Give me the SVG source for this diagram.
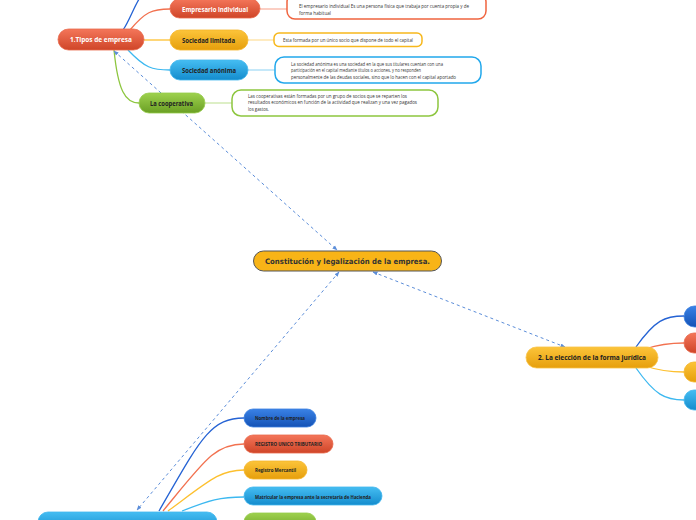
<svg xmlns="http://www.w3.org/2000/svg" width="696" height="520" viewBox="0 0 696 520">
<style>
.t{font-family:"Open Sans","Liberation Sans",sans-serif;font-weight:bold;font-size:7px;fill:#222}
.w{fill:#fff}
.s{font-family:"Open Sans","Liberation Sans",sans-serif;font-weight:bold;font-size:5px;fill:#222}
.n{font-family:"Open Sans","Liberation Sans",sans-serif;font-size:4.7px;fill:#333}
.c{fill:none;stroke-width:1.3}
.lc{fill:none;stroke-width:1.3}
.note{fill:#fff;stroke-width:1.5}
.rel{fill:none;stroke:#5b8dd9;stroke-width:1;stroke-dasharray:3 3}
</style>
<defs>
<linearGradient id="gR" x1="0" y1="0" x2="0" y2="1"><stop offset="0" stop-color="#f4765a"/><stop offset="1" stop-color="#cf4528"/></linearGradient>
<linearGradient id="gY" x1="0" y1="0" x2="0" y2="1"><stop offset="0" stop-color="#fcc43a"/><stop offset="1" stop-color="#e69f0c"/></linearGradient>
<linearGradient id="gB" x1="0" y1="0" x2="0" y2="1"><stop offset="0" stop-color="#45bdf2"/><stop offset="1" stop-color="#148ccd"/></linearGradient>
<linearGradient id="gD" x1="0" y1="0" x2="0" y2="1"><stop offset="0" stop-color="#3a82e6"/><stop offset="1" stop-color="#1452b5"/></linearGradient>
<linearGradient id="gG" x1="0" y1="0" x2="0" y2="1"><stop offset="0" stop-color="#9ed14e"/><stop offset="1" stop-color="#6a9f24"/></linearGradient>
<marker id="ar" viewBox="0 0 10 10" refX="9" refY="5" markerWidth="5" markerHeight="5" orient="auto-start-reverse" markerUnits="userSpaceOnUse">
<path d="M0,1 L10,5 L0,9 Z" fill="#5b8dd9"/>
</marker>
</defs>

<g id="connectors">
<path class="c" stroke="#2563d4" d="M123,30 C130,20 134,6 141,-4"/>
<path class="c" stroke="#f2714f" d="M130,30 C145,12 152,9 170,9"/>
<path class="c" stroke="#fdc02f" d="M144,40 L170,40"/>
<path class="c" stroke="#3cb8f0" d="M128,50 C145,68 152,70 170,70"/>
<path class="c" stroke="#8dc63f" d="M114,50 C118,90 125,103 139,103"/>
<path class="lc" stroke="#f9b4a2" d="M260,9 L287,9"/>
<path class="lc" stroke="#fde0a0" d="M248,40 L274,40"/>
<path class="lc" stroke="#a6dcf6" d="M248,70 L275,70"/>
<path class="lc" stroke="#cbe6a8" d="M205,103 L232,103"/>
<path class="c" stroke="#2563d4" d="M636,347 C655,320 665,316 684,316"/>
<path class="c" stroke="#f2714f" d="M645,349 C660,344 670,343 684,343"/>
<path class="c" stroke="#fdc02f" d="M645,366 C660,371 670,372 684,372"/>
<path class="c" stroke="#3cb8f0" d="M636,368 C655,395 665,400 684,400"/>
<path class="c" stroke="#2563d4" d="M159,511 C200,440 210,418 244,418"/>
<path class="c" stroke="#f2714f" d="M163,511 C205,460 215,444 244,444"/>
<path class="c" stroke="#fdc02f" d="M168,511 C210,480 220,470 244,470"/>
<path class="c" stroke="#3cb8f0" d="M182,511 C210,500 220,497 244,497"/>
<path class="rel" d="M114,51 L337,250" marker-start="url(#ar)" marker-end="url(#ar)"/>
<path class="rel" d="M373,272 L565,347" marker-start="url(#ar)" marker-end="url(#ar)"/>
<path class="rel" d="M339,272 L137,510" marker-start="url(#ar)" marker-end="url(#ar)"/>
</g>

<g id="central">
<rect x="253.5" y="251" width="188" height="20" rx="10" fill="#f8b417" stroke="#555" stroke-width="1"/>
<text x="265" y="264" font-family="'DejaVu Sans',Verdana,sans-serif" font-weight="bold" font-size="7.5" fill="#333" textLength="165" lengthAdjust="spacingAndGlyphs">Constitución y legalización de la empresa.</text>
</g>

<g id="tipos">
<rect x="58" y="29" width="86" height="21" rx="10.5" fill="url(#gR)" stroke="#e8694c" stroke-width="0.8"/>
<text class="t w" x="70" y="42" textLength="62" lengthAdjust="spacingAndGlyphs">1.Tipos de empresa</text>
</g>
<g id="empresario">
<rect x="170" y="-1" width="90" height="19" rx="9.5" fill="url(#gR)" stroke="#e8694c" stroke-width="0.8"/>
<text class="t w" x="182" y="12" textLength="66" lengthAdjust="spacingAndGlyphs">Empresario individual</text>
</g>
<g id="note-empresario">
<rect class="note" x="287" y="-6" width="199" height="25" rx="8" stroke="#f0643f"/>
<text class="n" x="299" y="8" textLength="170" lengthAdjust="spacingAndGlyphs">El empresario individual Es una persona física que trabaja por cuenta propia y de</text>
<text class="n" x="299" y="14.5" textLength="32" lengthAdjust="spacingAndGlyphs">forma habitual</text>
</g>
<g id="limitada">
<rect x="170" y="30" width="78" height="20" rx="10" fill="url(#gY)" stroke="#f5b52a" stroke-width="0.8"/>
<text class="t" x="182" y="42.5" textLength="53" lengthAdjust="spacingAndGlyphs">Sociedad limitada</text>
</g>
<g id="note-limitada">
<rect class="note" x="274" y="33" width="148" height="13.5" rx="5" stroke="#f7b81c"/>
<text class="n" x="283" y="41.5" textLength="130" lengthAdjust="spacingAndGlyphs">Esta formada por un único socio que dispone de todo el capital</text>
</g>
<g id="anonima">
<rect x="170" y="60" width="78" height="20" rx="10" fill="url(#gB)" stroke="#41b6ee" stroke-width="0.8"/>
<text class="t" x="182" y="72.5" textLength="54" lengthAdjust="spacingAndGlyphs">Sociedad anónima</text>
</g>
<g id="note-anonima">
<rect class="note" x="275" y="57" width="206" height="26" rx="9" stroke="#22a8ec"/>
<text class="n" x="291" y="65.5" textLength="152" lengthAdjust="spacingAndGlyphs">La sociedad anónima es una sociedad en la que sus titulares cuentan con una</text>
<text class="n" x="291" y="72" textLength="130" lengthAdjust="spacingAndGlyphs">participación en el capital mediante títulos o acciones, y no responden</text>
<text class="n" x="291" y="78.5" textLength="165" lengthAdjust="spacingAndGlyphs">personalmente de las deudas sociales, sino que lo hacen con el capital aportado</text>
</g>
<g id="cooperativa">
<rect x="139" y="93" width="66" height="20" rx="10" fill="url(#gG)" stroke="#96cc4a" stroke-width="0.8"/>
<text class="t" x="150" y="105.5" textLength="43" lengthAdjust="spacingAndGlyphs">La cooperativa</text>
</g>
<g id="note-cooperativa">
<rect class="note" x="232" y="90" width="206" height="26" rx="9" stroke="#8dc63f"/>
<text class="n" x="248" y="97.5" textLength="159" lengthAdjust="spacingAndGlyphs">Las cooperativas están formadas por un grupo de socios que se reparten los</text>
<text class="n" x="248" y="104" textLength="169" lengthAdjust="spacingAndGlyphs">resultados económicos en función de la actividad que realizan y una vez pagados</text>
<text class="n" x="248" y="110.5" textLength="21" lengthAdjust="spacingAndGlyphs">los gastos.</text>
</g>

<g id="eleccion">
<rect x="526" y="347" width="132" height="21" rx="10.5" fill="url(#gY)" stroke="#f9c347" stroke-width="0.8"/>
<text class="t" x="538" y="360" textLength="108" lengthAdjust="spacingAndGlyphs">2. La elección de la forma jurídica</text>
</g>
<g id="r1"><rect x="684" y="306" width="40" height="21" rx="10.5" fill="url(#gD)" stroke="#3a7fe0" stroke-width="0.8"/></g>
<g id="r2"><rect x="684" y="333" width="40" height="20" rx="10" fill="url(#gR)" stroke="#e8694c" stroke-width="0.8"/></g>
<g id="r3"><rect x="684" y="362" width="40" height="20" rx="10" fill="url(#gY)" stroke="#f5b52a" stroke-width="0.8"/></g>
<g id="r4"><rect x="684" y="390" width="40" height="20" rx="10" fill="url(#gB)" stroke="#41b6ee" stroke-width="0.8"/></g>

<g id="bottom">
<rect x="38" y="512" width="179" height="20" rx="10" fill="url(#gB)" stroke="#41b6ee" stroke-width="0.8"/>
</g>
<g id="nombre">
<rect x="244" y="409" width="72" height="18" rx="9" fill="url(#gD)" stroke="#3a7fe0" stroke-width="0.8"/>
<text class="s w" x="255" y="420" textLength="50" lengthAdjust="spacingAndGlyphs">Nombre de la empresa</text>
</g>
<g id="rut">
<rect x="244" y="435" width="89" height="18" rx="9" fill="url(#gR)" stroke="#e8694c" stroke-width="0.8"/>
<text class="s w" x="255" y="446" textLength="67" lengthAdjust="spacingAndGlyphs">REGISTRO UNICO TRIBUTARIO</text>
</g>
<g id="mercantil">
<rect x="244" y="461" width="63" height="18" rx="9" fill="url(#gY)" stroke="#f5b52a" stroke-width="0.8"/>
<text class="s" x="255" y="472" textLength="41" lengthAdjust="spacingAndGlyphs">Registro Mercantil</text>
</g>
<g id="matricular">
<rect x="244" y="487" width="138" height="18" rx="9" fill="url(#gB)" stroke="#41b6ee" stroke-width="0.8"/>
<text class="s" x="255" y="498.5" textLength="116" lengthAdjust="spacingAndGlyphs">Matricular la empresa ante la secretaría de Hacienda</text>
</g>
<g id="green-bottom">
<rect x="244" y="513" width="72" height="18" rx="9" fill="url(#gG)" stroke="#96cc4a" stroke-width="0.8"/>
</g>
</svg>
